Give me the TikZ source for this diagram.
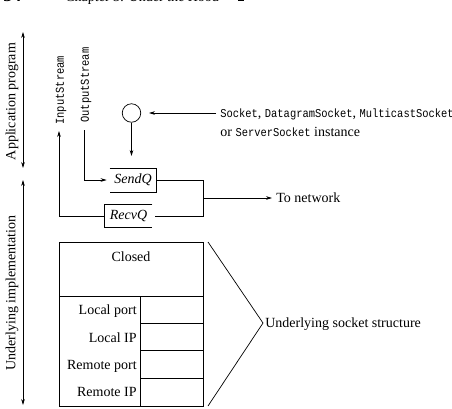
\documentclass[tikz,border=0pt]{standalone}
\usepackage{fontspec}
\setmainfont{Liberation Serif}
\newfontfamily\codefont[FakeStretch=0.87]{Liberation Mono}
\usetikzlibrary{arrows.meta}
\newcommand{\cf}[1]{{\codefont\fontsize{12}{14}\selectfont #1}}
\begin{document}
\begin{tikzpicture}[x=1pt,y=-1pt, line width=0.7pt,
  tip/.style={-{Stealth[length=6pt,width=3.6pt]}},
  dtip/.style={{Stealth[length=6pt,width=3.6pt]}-{Stealth[length=6pt,width=3.6pt]}},
  lbl/.style={font=\fontsize{14}{16}\selectfont, inner sep=0pt},
  code/.style={font=\codefont\fontsize{12}{14}\selectfont, inner sep=0pt},
  queue/.style={inner sep=0pt, font=\fontsize{14}{16}\selectfont\itshape, minimum width=46pt, minimum height=23pt},
]
\clip (0,0) rectangle (452,408);
\fill[white] (0,0) rectangle (452,408);

% page header (cut off)
\node[lbl, anchor=base west, font=\fontsize{18}{20}\selectfont\bfseries] (pg) at (3,1.5) {34};
\node[lbl, anchor=base west] (hdr) at (65,1.5) {Chapter 3: Under the Hood};
\node[fill, minimum size=6pt, inner sep=0pt, anchor=south west] (sqr) at (238,1.5) {};

% left level arrows
\coordinate (a1) at (23,32); \coordinate (a2) at (23,168);
\draw[dtip] (a1) -- (a2);
\coordinate (b1) at (23,180); \coordinate (b2) at (23,405);
\draw[dtip] (b1) -- (b2);
\node[lbl, rotate=90] (app) at (12,101.5) {Application program};
\node[lbl, rotate=90] (impl) at (12,293) {Underlying implementation};

% streams
\node[code, rotate=90, anchor=west] (ins) at (61,125) {InputStream};
\node[code, rotate=90, anchor=west] (outs) at (86,123) {OutputStream};

% queues
\node[queue] (sq) at (133,180) {SendQ};
\node[queue, minimum width=47pt, minimum height=22pt] (rq) at (128.5,216) {RecvQ};
\draw (sq.north west) -- (sq.north east) -- (sq.south east) -- (sq.south west);
\draw (rq.north east) -- (rq.north west) -- (rq.south west) -- (rq.south east);

\coordinate (inTip) at (59,131);
\draw[tip] (rq.west) -| (inTip);
\coordinate (outTop) at (84,130);
\draw[tip] (outTop) |- ([xshift=-3pt]sq.west);

% to network
\coordinate (j1) at (203,180); \coordinate (j2) at (203,216); \coordinate (jm) at (203,198);
\draw (sq.east) -- (j1) -- (j2) -- ([xshift=3pt]rq.east);
\node[lbl, anchor=west] (net) at (276,198) {To network};
\draw[tip] (jm) -- ([xshift=-4pt]net.west);

% socket instance
\node[draw, circle, minimum size=18.5pt, inner sep=0pt] (obj) at (131.5,113) {};
\coordinate (objTip) at (131.5,156);
\draw[tip] (obj.south) -- (objTip);
\node[lbl, anchor=base west] (sk1) at (220,117) {\cf{Socket}, \cf{DatagramSocket}, \cf{MulticastSocket}};
\node[lbl, anchor=base west] (sk2) at (220,136) {or \cf{ServerSocket} instance};
\coordinate (skArr) at (216,113); \coordinate (objR) at (149,113);
\draw[tip] (skArr) -- (objR);

% socket structure
\node[draw, anchor=north west, minimum width=144pt, minimum height=164pt, inner sep=0pt] (ss) at (59,242) {};
\node[lbl, anchor=base] (closed) at (131,261.3) {Closed};
\coordinate (r0l) at (59,296); \coordinate (r0r) at (203,296);
\draw (r0l) -- (r0r);
\coordinate (vt) at (140.7,296); \coordinate (vb) at (140.7,406);
\draw (vt) -- (vb);
\foreach \yy in {323.4, 350.8, 378.2} \draw (140.7,\yy) -- (203,\yy);
\node[lbl, anchor=base east] (lp) at (137,314.7) {Local port};
\node[lbl, anchor=base east] (li) at (137,342.1) {Local IP};
\node[lbl, anchor=base east] (rp) at (137,369.5) {Remote port};
\node[lbl, anchor=base east] (ri) at (137,396.9) {Remote IP};

% bracket
\coordinate (bt) at (208,242); \coordinate (bm) at (263,323); \coordinate (bb) at (208,406);
\draw (bt) -- (bm) -- (bb);
\node[lbl, anchor=base west] (uss) at (265,327.5) {Underlying socket structure};
\end{tikzpicture}
\end{document}
